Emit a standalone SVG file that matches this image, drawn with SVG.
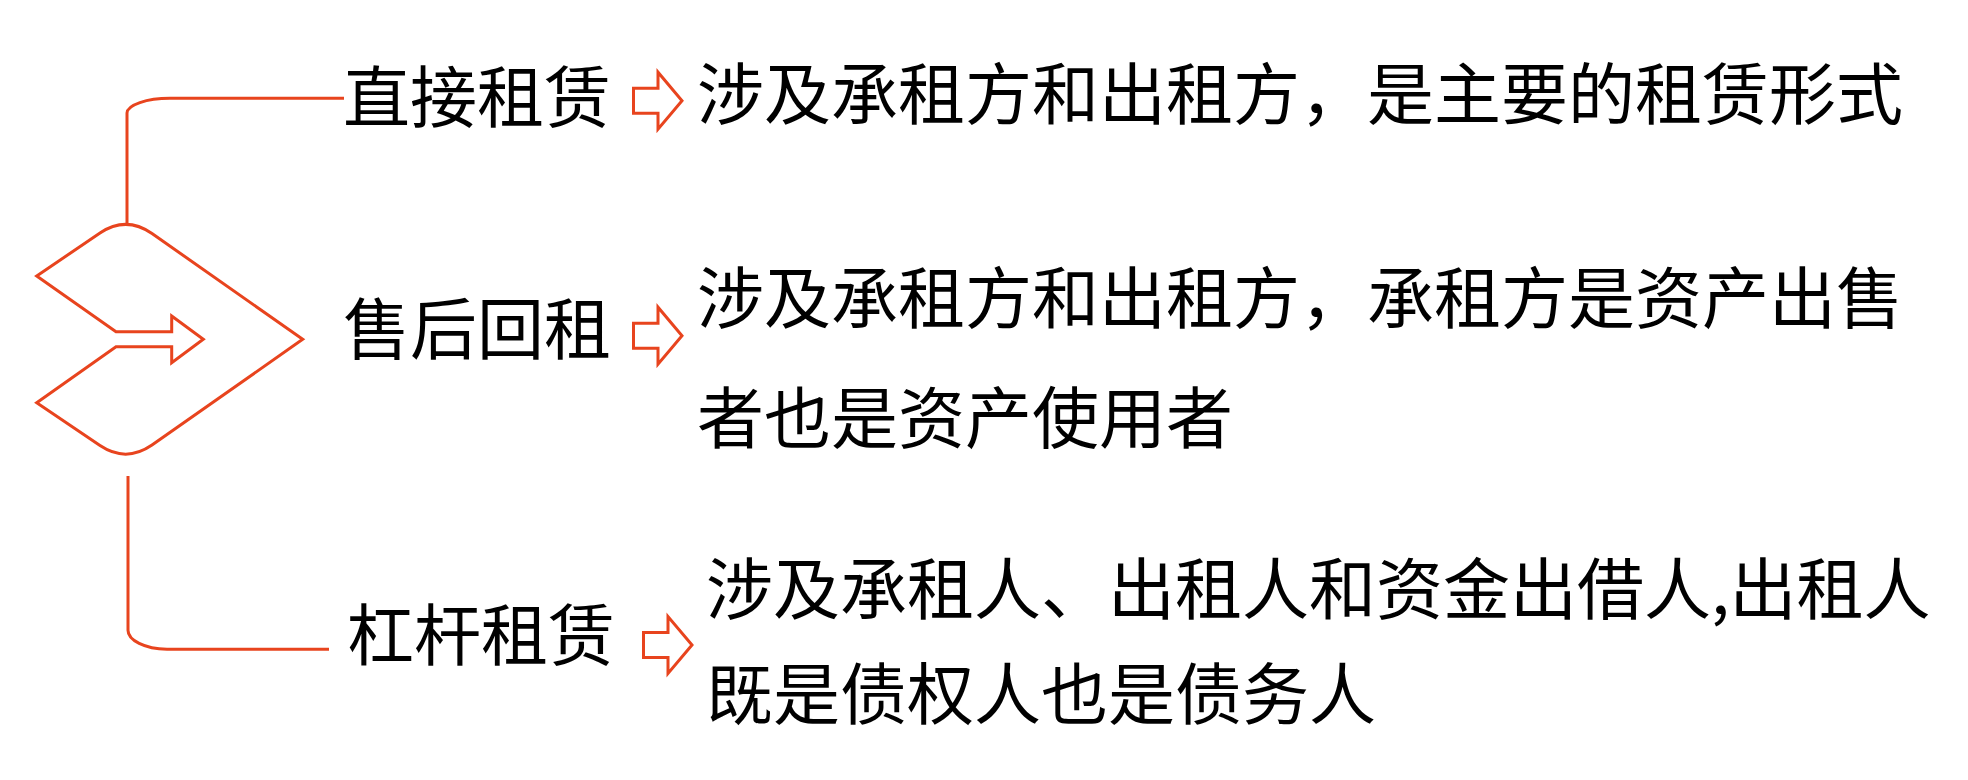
<svg xmlns="http://www.w3.org/2000/svg" width="1968" height="780" viewBox="0 0 1968 780">
<defs>
<style>
.ln{fill:none;stroke:#E8441E;stroke-width:3;stroke-linejoin:miter}
.t{font-family:"Noto Sans CJK SC","Noto Sans",sans-serif;font-size:67px;fill:#000}
</style>
<path id="arr" class="ln" d="M1.5,-12.5 H26 V-28.5 L50,0 L26,28.5 V12.5 H1.5 Z"/>
</defs>
<rect width="1968" height="780" fill="#fff"/>
<g id="connectors">
<path class="ln" d="M127,224 V113 A43,15 0 0 1 170,98.3 H344"/>
<path class="ln" d="M128,476 V630 A40,19 0 0 0 167,649.3 H329"/>
<use href="#arr" transform="translate(632,100.7)"/>
<use href="#arr" transform="translate(632,335.7)"/>
<use href="#arr" transform="translate(642,645)"/>
</g>
<g id="hub">
<path class="ln" d="M100,233 Q126,215.5 152,233.5 L302.7,339.3 L152,445.1 Q126,463 100,445.6 L36.7,402.7 L116,346.7 L171.7,346.7 L171.7,362.7 L203.3,339.3 L171.7,316 L171.7,331.7 L116,331.7 L36.7,276 Z"/>
</g>
<g id="node-direct">
<text class="t" x="343" y="122">直接租赁</text>
<text class="t" x="697" y="119">涉及承租方和出租方，是主要的租赁形式</text>
</g>
<g id="node-saleback">
<text class="t" x="343" y="354">售后回租</text>
<text class="t" x="697" y="323">涉及承租方和出租方，承租方是资产出售</text>
<text class="t" x="697" y="443">者也是资产使用者</text>
</g>
<g id="node-leverage">
<text class="t" x="347" y="660">杠杆租赁</text>
<text class="t" x="706" y="614">涉及承租人、出租人和资金出借人,出租人</text>
<text class="t" x="706" y="719">既是债权人也是债务人</text>
</g>
</svg>
